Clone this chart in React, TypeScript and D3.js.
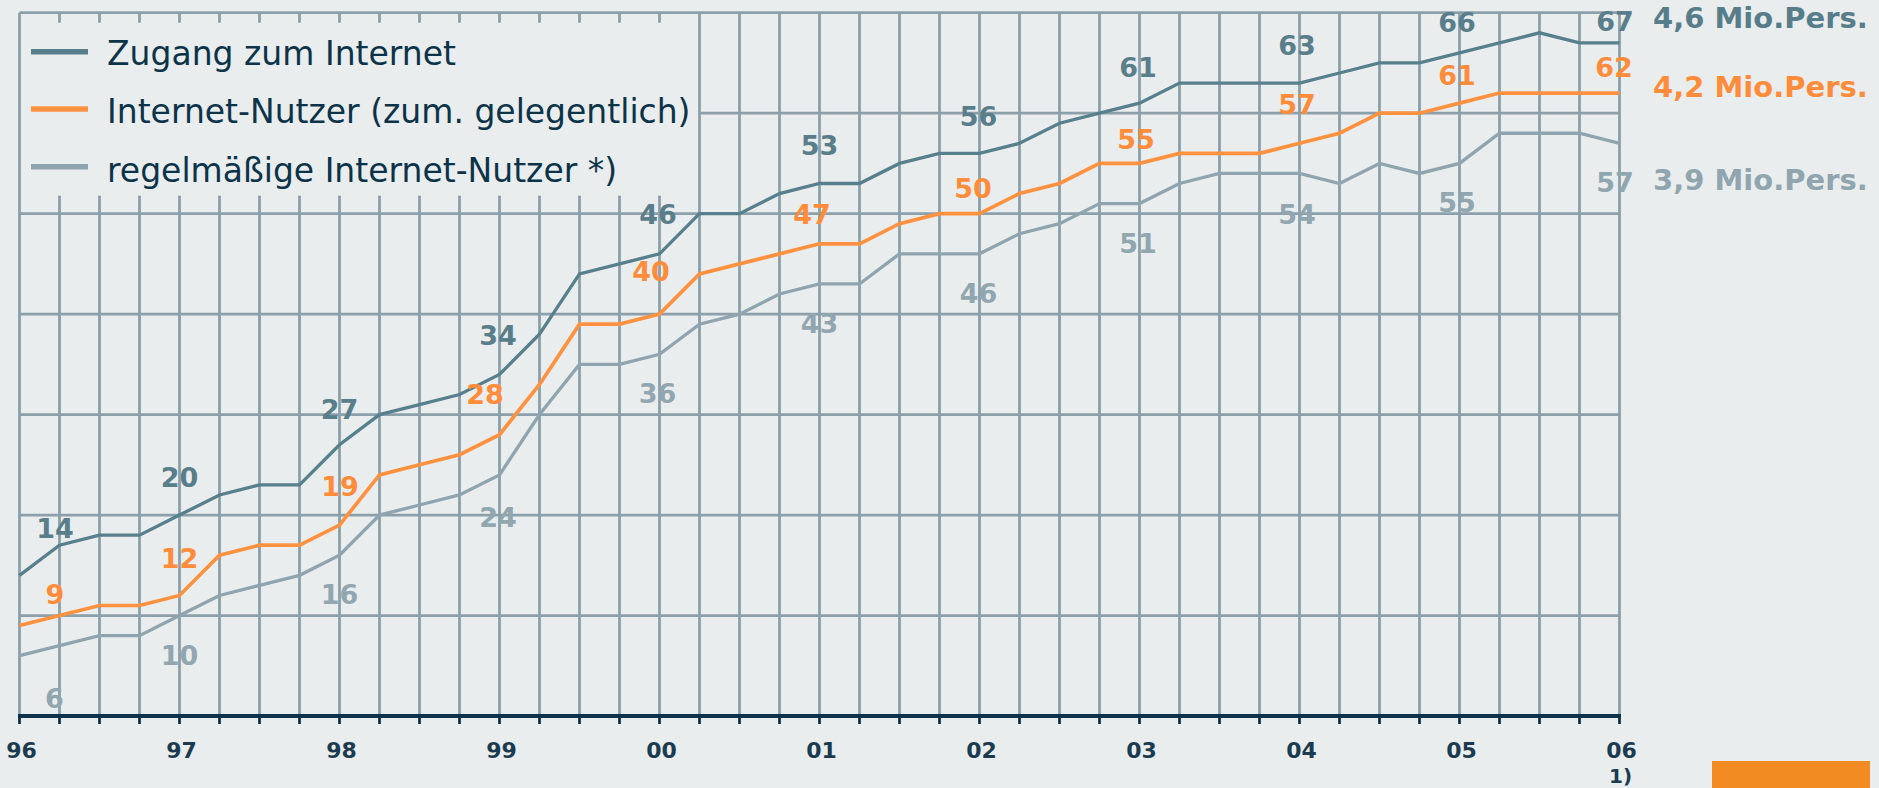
import React from "react";
import * as d3 from "d3";

// ---- data (quarterly, 1996 Q1 .. 2006 Q1), in % ----
const yearLabels = ["96", "97", "98", "99", "00", "01", "02", "03", "04", "05", "06"];

const zugang = [
  14, 17, 18, 18, 20, 22, 23, 23, 27, 30, 31, 32, 34, 38, 44, 45, 46, 50, 50, 52,
  53, 53, 55, 56, 56, 57, 59, 60, 61, 63, 63, 63, 63, 64, 65, 65, 66, 67, 68, 67, 67,
];
const nutzer = [
  9, 10, 11, 11, 12, 16, 17, 17, 19, 24, 25, 26, 28, 33, 39, 39, 40, 44, 45, 46,
  47, 47, 49, 50, 50, 52, 53, 55, 55, 56, 56, 56, 57, 58, 60, 60, 61, 62, 62, 62, 62,
];
const regelmaessig = [
  6, 7, 8, 8, 10, 12, 13, 14, 16, 20, 21, 22, 24, 30, 35, 35, 36, 39, 40, 42,
  43, 43, 46, 46, 46, 48, 49, 51, 51, 53, 54, 54, 54, 53, 55, 54, 55, 58, 58, 58, 57,
];

const legendLabels = [
  "Zugang zum Internet",
  "Internet-Nutzer (zum. gelegentlich)",
  "regelmäßige Internet-Nutzer *)",
];
const endLabels = ["4,6 Mio.Pers.", "4,2 Mio.Pers.", "3,9 Mio.Pers."];
const yTicks = [10, 20, 30, 40, 50, 60, 70];

// label offsets (px) relative to the data point at each year tick
const zugangLabelDy = [-37, -28, -26, -29, -30, -28.5, -27, -26, -28, -21, -12];
const zugangLabelDx = [35.5, 0, 0, -1.5, -1.5, 0, -1, -1.5, -2.5, -2.5, -4.5];
const nutzerLabelDy = [-21.6, -27, -29, -31, -33, -20, -16, -14.4, -29, -18, -15.6];
const nutzerLabelDx = [35.5, 0, 0.5, -14.5, -8.5, -7.5, -6.5, -3.5, -2.5, -2.5, -5.5];
const regelLabelDy = [52, 49.5, 49, 52, 49, 49, 49, 49, 50.5, 48.6, 48.4];
const regelLabelDx = [35, 0, 0, -1.5, -2, 0, -1, -1.5, -2.5, -2.5, -4.5];

// ---- styles ----
const BG = "#e9edee";
const GRID = "#8ba0aa";
const AXIS = "#0e3249";
const C_DARK = "#587f8c";
const C_ORANGE = "#ff9240";
const C_GREY = "#8fa4ae";
const FONT = "'DejaVu Sans', Verdana, sans-serif";

export default function App() {
  const W = 1879;
  const H = 788;
  const n = zugang.length - 1;
  const x = d3.scaleLinear().domain([0, n]).range([19.5, 1619.5]);
  const y = d3.scaleLinear().domain([0, 70]).range([716, 12.7]);
  const line = d3
    .line<number>()
    .x((_, i) => x(i))
    .y((d) => y(d));

  const legendEnd = 16; // quarters covered by the legend box (1..16)
  const legendBottom = y(50);
  const quarters = d3.range(0, n + 1);

  const series = [
    { data: zugang, color: C_DARK, width: 3.3, dy: zugangLabelDy, dx: zugangLabelDx, lc: "#5a7d8a" },
    { data: nutzer, color: C_ORANGE, width: 3.7, dy: nutzerLabelDy, dx: nutzerLabelDx, lc: "#ff8c3a" },
    { data: regelmaessig, color: C_GREY, width: 3.3, dy: regelLabelDy, dx: regelLabelDx, lc: "#92a6b0" },
  ];

  return (
    <svg
      width={W}
      height={H}
      style={{ position: "absolute", left: 0, top: 0, display: "block" }}
      fontFamily={FONT}
    >
      <rect x={0} y={0} width={W} height={H} fill={BG} />

      {/* vertical grid */}
      <g stroke={GRID} strokeWidth={2.8}>
        {quarters.map((q) =>
          q >= 1 && q <= legendEnd ? (
            <g key={q}>
              <line x1={x(q)} x2={x(q)} y1={y(70)} y2={y(70) + 10} />
              <line x1={x(q)} x2={x(q)} y1={legendBottom - 18} y2={y(0)} />
            </g>
          ) : (
            <line key={q} x1={x(q)} x2={x(q)} y1={y(70)} y2={y(0)} />
          )
        )}
        {yTicks.map((t) => (
          <line
            key={t}
            x1={t === 60 ? x(legendEnd + 1) : x(0)}
            x2={x(n)}
            y1={y(t)}
            y2={y(t)}
          />
        ))}
      </g>

      {/* x axis */}
      <g stroke={AXIS}>
        <line x1={x(0) - 1.5} x2={x(n) + 1.5} y1={y(0)} y2={y(0)} strokeWidth={4} />
        {quarters.map((q) => (
          <line key={q} x1={x(q)} x2={x(q)} y1={y(0)} y2={y(0) + 8} strokeWidth={2.8} />
        ))}
      </g>
      <g fill="#1c3b4f" fontSize={22} fontWeight="bold" textAnchor="middle">
        {yearLabels.map((l, i) => (
          <text key={l} x={x(i * 4) + 2} y={758}>
            {l}
          </text>
        ))}
        <text x={x(n) + 1} y={783} fontSize={20}>1)</text>
      </g>

      {/* lines */}
      {[...series].reverse().map((s, i) => (
        <path
          key={i}
          d={line(s.data) || ""}
          fill="none"
          stroke={s.color}
          strokeWidth={s.width}
          strokeLinejoin="miter"
        />
      ))}

      {/* value labels at year ticks */}
      {series.map((s, si) => (
        <g key={si} fill={s.lc} fontSize={27} fontWeight="bold" textAnchor="middle">
          {yearLabels.map((_, k) => {
            const idx = k * 4;
            return (
              <text key={k} x={x(idx) + s.dx[k]} y={y(s.data[idx]) + s.dy[k]}>
                {s.data[idx]}
              </text>
            );
          })}
        </g>
      ))}

      {/* end labels */}
      <g fontSize={29} fontWeight="bold">
        <text x={1653} y={28.3} fill="#587d8a">{endLabels[0]}</text>
        <text x={1653} y={97.3} fill="#ff8c3a">{endLabels[1]}</text>
        <text x={1653} y={190} fill="#91a5af">{endLabels[2]}</text>
      </g>

      {/* legend */}
      <g>
        {legendLabels.map((l, i) => {
          const ly = [51.7, 109, 166.7][i];
          const by = [65, 122.7, 181.7][i];
          return (
            <g key={l}>
              <line x1={31} x2={88} y1={ly} y2={ly} stroke={series[i].color} strokeWidth={5.5} />
              <text x={107} y={by} fontSize={33} fill="#0d3349">
                {l}
              </text>
            </g>
          );
        })}
      </g>

      {/* orange footer block */}
      <rect x={1712} y={761} width={158} height={30} fill="#f28c22" />
    </svg>
  );
}
